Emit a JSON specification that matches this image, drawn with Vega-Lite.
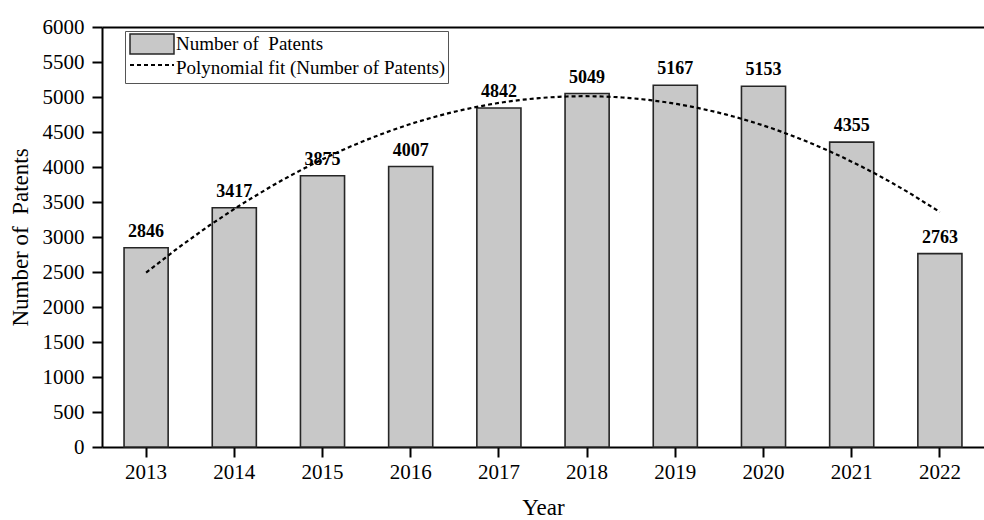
{
  "$schema": "https://vega.github.io/schema/vega-lite/v6.json",
  "width": 882,
  "height": 420,
  "autosize": {"type": "none"},
  "padding": {"left": 102, "top": 27, "right": 0, "bottom": 73},
  "background": "white",
  "config": {
    "font": "Liberation Serif",
    "view": {"stroke": null},
    "axis": {
      "labelFont": "Liberation Serif",
      "titleFont": "Liberation Serif",
      "labelColor": "black",
      "titleColor": "black",
      "domainColor": "black",
      "tickColor": "black",
      "grid": false,
      "titleFontWeight": "normal",
      "labelFontSize": 21,
      "titleFontSize": 23,
      "tickSize": 10,
      "tickWidth": 2,
      "domainWidth": 2
    },
    "legend": {
      "labelFont": "Liberation Serif",
      "labelFontSize": 19,
      "labelColor": "black",
      "labelLimit": 0,
      "symbolSize": 400,
      "symbolOffset": 14,
      "labelOffset": 13,
      "rowPadding": -6,
      "padding": 2
    }
  },
  "data": {
    "values": [
      {"Year": 2013, "Patents": 2846},
      {"Year": 2014, "Patents": 3417},
      {"Year": 2015, "Patents": 3875},
      {"Year": 2016, "Patents": 4007},
      {"Year": 2017, "Patents": 4842},
      {"Year": 2018, "Patents": 5049},
      {"Year": 2019, "Patents": 5167},
      {"Year": 2020, "Patents": 5153},
      {"Year": 2021, "Patents": 4355},
      {"Year": 2022, "Patents": 2763}
    ]
  },
  "encoding": {
    "y": {
      "field": "Patents",
      "type": "quantitative",
      "scale": {"domain": [0, 6000], "nice": false},
      "axis": {
        "values": [0, 500, 1000, 1500, 2000, 2500, 3000, 3500, 4000, 4500, 5000, 5500, 6000],
        "format": "d",
        "labelOverlap": false,
        "labelPadding": 8,
        "title": "Number of\u00a0 Patents",
        "titlePadding": 10
      }
    }
  },
  "layer": [
    {
      "mark": {"type": "bar", "strokeWidth": 1.6, "opacity": 1},
      "encoding": {
        "x": {
          "field": "Year",
          "type": "ordinal",
          "scale": {"paddingInner": 0.5, "paddingOuter": 0.25},
          "axis": {
            "labelAngle": 0,
            "labelPadding": 4,
            "title": "Year",
            "titlePadding": 14
          }
        },
        "fill": {
          "datum": "Number of\u00a0 Patents",
          "type": "nominal",
          "scale": {
            "domain": ["Number of\u00a0 Patents", "Polynomial fit (Number of Patents)"],
            "range": ["#c8c8c8", "transparent"]
          },
          "legend": {
            "title": null,
            "orient": "none",
            "legendX": 23,
            "legendY": 4,
            "strokeColor": "#555555",
            "symbolType": "M-2.2,-1H2.2V1H-2.2Z",
            "symbolStrokeWidth": 1.5
          }
        },
        "stroke": {
          "datum": "Number of\u00a0 Patents",
          "type": "nominal",
          "scale": {
            "domain": ["Number of\u00a0 Patents", "Polynomial fit (Number of Patents)"],
            "range": ["#262626", "transparent"]
          },
          "legend": {
            "title": null,
            "orient": "none",
            "legendX": 23,
            "legendY": 4,
            "strokeColor": "#555555",
            "symbolType": "M-2.2,-1H2.2V1H-2.2Z",
            "symbolStrokeWidth": 1.5
          }
        }
      }
    },
    {
      "mark": {"type": "text", "fontWeight": "bold", "fontSize": 18, "font": "Liberation Serif", "baseline": "alphabetic", "dy": -11, "color": "black"},
      "encoding": {
        "x": {"field": "Year", "type": "ordinal", "scale": {"paddingInner": 0.5, "paddingOuter": 0.25}, "axis": null},
        "text": {"field": "Patents", "type": "quantitative"}
      }
    },
    {
      "transform": [
        {"regression": "Patents", "on": "Year", "method": "poly", "order": 2, "extent": [2013, 2022]}
      ],
      "mark": {"type": "line", "strokeWidth": 2.2, "color": "black"},
      "encoding": {
        "x": {
          "field": "Year",
          "type": "quantitative",
          "scale": {"domain": [2012.5, 2022.5], "nice": false, "zero": false},
          "axis": {"orient": "top", "labels": false, "ticks": false, "title": null, "grid": false}
        },
        "strokeDash": {
          "datum": "Polynomial fit (Number of Patents)",
          "type": "nominal",
          "scale": {"domain": ["Polynomial fit (Number of Patents)"], "range": [[4, 3]]},
          "legend": {
            "title": null,
            "orient": "none",
            "legendX": 23,
            "legendY": 25,
            "labelExpr": "''",
            "symbolType": "M-2.2,0H2.2",
            "symbolStrokeColor": "black",
            "symbolFillColor": "transparent",
            "symbolStrokeWidth": 2
          }
        }
      }
    }
  ],
  "resolve": {"scale": {"x": "independent"}}
}
